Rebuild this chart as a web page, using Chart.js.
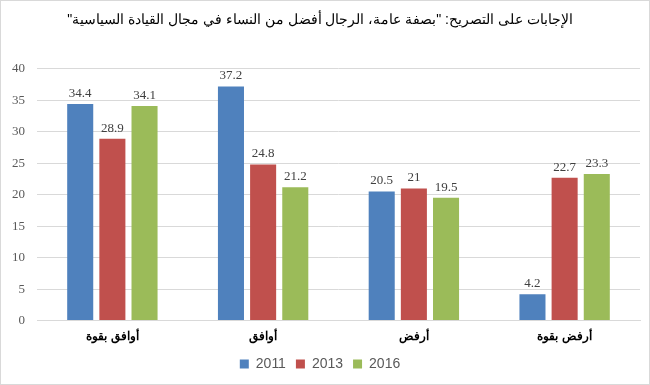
<!DOCTYPE html>
<html lang="ar">
  <head>
    <meta charset="UTF-8" />
    <title>Bar Chart</title>
    <script src="https://cdn.jsdelivr.net/npm/chart.js@4.4.0/dist/chart.umd.min.js"></script>
    <style>
      body { margin: 0; background: #fff; }
      #wrap { width: 650px; height: 385px; position: relative; }
    </style>
  </head>
  <body>
    <div id="wrap"><canvas id="chart" dir="rtl"></canvas></div>
    <script>
      var categories = ['أوافق بقوة', 'أوافق', 'أرفض', 'أرفض بقوة'];
      var years = ['2011', '2013', '2016'];
      var values2011 = [34.4, 37.2, 20.5, 4.2];
      var values2013 = [28.9, 24.8, 21, 22.7];
      var values2016 = [34.1, 21.2, 19.5, 23.3];
      var colors = ['#4f81bd', '#c0504d', '#9bbb59'];

      var series = [values2011, values2013, values2016];

      // white background + thin frame
      var frame = {
        id: 'frame',
        beforeDraw: function (chart) {
          var ctx = chart.ctx;
          ctx.save();
          ctx.fillStyle = '#fff';
          ctx.fillRect(0, 0, chart.width, chart.height);
          ctx.strokeStyle = '#d9d9d9';
          ctx.lineWidth = 1;
          ctx.strokeRect(0.5, 0.5, chart.width - 1, chart.height - 1);
          ctx.restore();
        }
      };

      // value labels above each bar
      var valueLabels = {
        id: 'valueLabels',
        afterDatasetsDraw: function (chart) {
          var ctx = chart.ctx;
          ctx.save();
          ctx.font = '13px "Liberation Serif", serif';
          ctx.fillStyle = '#404040';
          ctx.textAlign = 'center';
          ctx.textBaseline = 'bottom';
          chart.data.datasets.forEach(function (ds, i) {
            chart.getDatasetMeta(i).data.forEach(function (bar, j) {
              ctx.fillText(String(ds.data[j]), bar.x, bar.y - 4);
            });
          });
          ctx.restore();
        }
      };

      new Chart(document.getElementById('chart'), {
        type: 'bar',
        data: {
          labels: categories,
          datasets: years.map(function (y, i) {
            return {
              label: y,
              data: series[i],
              backgroundColor: colors[i],
              categoryPercentage: 0.64,
              barPercentage: 0.81
            };
          })
        },
        options: {
          responsive: true,
          maintainAspectRatio: false,
          animation: false,
          layout: { padding: { left: 0, right: 10, top: 0, bottom: 4 } },
          plugins: {
            title: {
              display: true,
              text: 'الإجابات على التصريح: "بصفة عامة، الرجال أفضل من النساء في مجال القيادة السياسية"',
              color: '#000',
              font: { family: '"Liberation Sans", Arial, sans-serif', size: 14, weight: 'normal' },
              padding: { top: 12, bottom: 40 }
            },
            legend: {
              position: 'bottom',
              labels: {
                color: '#595959',
                boxWidth: 9,
                boxHeight: 9,
                padding: 10,
                font: { family: '"Liberation Sans", Arial, sans-serif', size: 14 }
              }
            },
            tooltip: { enabled: false }
          },
          scales: {
            x: {
              afterFit: function (axis) { axis.height += 2; },
              grid: { display: false },
              border: { color: '#d9d9d9' },
              ticks: {
                color: '#000',
                padding: 1,
                font: { family: '"Liberation Sans", Arial, sans-serif', size: 12, weight: 'bold' }
              }
            },
            y: {
              min: 0,
              max: 40,
              afterFit: function (axis) { axis.width = 37; },
              grid: { color: '#d9d9d9', drawTicks: false },
              border: { display: false },
              ticks: {
                stepSize: 5,
                color: '#595959',
                padding: 12,
                font: { family: '"Liberation Serif", serif', size: 13 }
              }
            }
          }
        },
        plugins: [frame, valueLabels]
      });
    </script>
  </body>
</html>
